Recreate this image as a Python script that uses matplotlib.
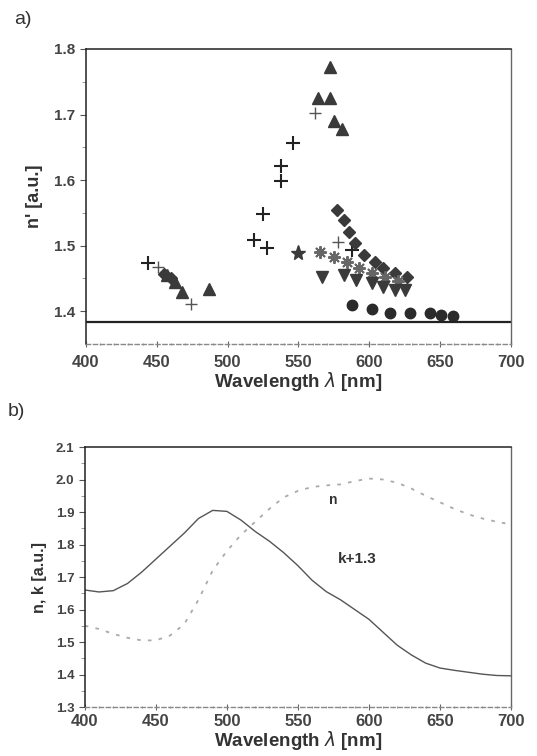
import numpy as np
import matplotlib
matplotlib.use("Agg")
import matplotlib.pyplot as plt

plt.rcParams['font.family'] = ['Liberation Sans', 'DejaVu Sans']

# panel a) data
plus_x = [444, 519, 528, 525, 546, 538, 538, 588]
plus_y = [1.473, 1.508, 1.496, 1.549, 1.656, 1.621, 1.599, 1.493]
plus_small_x = [451, 474, 562, 578]
plus_small_y = [1.467, 1.411, 1.703, 1.506]
triup_x = [457, 463, 468, 487, 564, 572, 572, 575, 581]
triup_y = [1.455, 1.444, 1.430, 1.434, 1.725, 1.725, 1.773, 1.690, 1.678]
diam_x = [455, 460, 577, 582, 586, 590, 596, 604, 610, 618, 627]
diam_y = [1.457, 1.450, 1.554, 1.539, 1.521, 1.504, 1.486, 1.475, 1.466, 1.458, 1.452]
star_x = [550]
star_y = [1.489]
aster_x = [565, 575, 584, 593, 602, 611, 620]
aster_y = [1.490, 1.482, 1.475, 1.466, 1.458, 1.452, 1.446]
tridn_x = [567, 582, 591, 602, 610, 618, 625]
tridn_y = [1.452, 1.455, 1.447, 1.443, 1.437, 1.432, 1.432]
circ_x = [588, 602, 615, 629, 643, 651, 659]
circ_y = [1.409, 1.404, 1.397, 1.397, 1.398, 1.394, 1.392]
n_air = 1.383

# panel b) data
wl = np.arange(400, 701, 10)
k_shift = [1.660, 1.654, 1.658, 1.680, 1.715, 1.755, 1.795, 1.835, 1.880, 1.905,
           1.902, 1.875, 1.840, 1.810, 1.775, 1.735, 1.690, 1.655, 1.630, 1.600,
           1.570, 1.530, 1.490, 1.460, 1.435, 1.420, 1.413, 1.407, 1.401, 1.397, 1.396]
n_real = [1.550, 1.540, 1.525, 1.513, 1.505, 1.505, 1.520, 1.555, 1.630, 1.720,
          1.780, 1.830, 1.870, 1.910, 1.945, 1.965, 1.977, 1.982, 1.985, 1.995,
          2.003, 2.000, 1.990, 1.972, 1.950, 1.930, 1.910, 1.893, 1.880, 1.870, 1.862]

tick_col = '#444444'
mk = '#3a3a3a'

fig = plt.figure(figsize=(5.37, 7.56), dpi=100)
ax1 = fig.add_axes([0.160, 0.545, 0.7914, 0.3902])
ax2 = fig.add_axes([0.158, 0.0648, 0.7934, 0.3439])

# ---- a)
ax1.plot(plus_x, plus_y, '+', color='#222222', ms=10, mew=1.5, ls='none')
ax1.plot(plus_small_x, plus_small_y, '+', color='#555555', ms=8, mew=1.0, ls='none')
ax1.plot(diam_x, diam_y, 'D', color=mk, ms=6.5, ls='none')
ax1.plot(triup_x, triup_y, '^', color=mk, ms=8.5, ls='none')
ax1.plot(star_x, star_y, '*', color=mk, ms=11, ls='none')
ax1.plot(aster_x, aster_y, marker=(8, 2, 0), color='#666666', ms=9, mew=1.4, ls='none')
ax1.plot(tridn_x, tridn_y, 'v', color=mk, ms=8.5, ls='none')
ax1.plot(circ_x, circ_y, 'o', color='#2a2a2a', ms=7.5, ls='none')
ax1.axhline(n_air, color='#222222', lw=1.6)

ax1.set_xlim(400, 700)
ax1.set_ylim(1.35, 1.8)
ax1.set_yticks([1.4, 1.5, 1.6, 1.7, 1.8])
ax1.set_yticks(np.arange(1.45, 1.8, 0.1), minor=True)
ax1.set_xticks(range(400, 701, 50))
ax1.set_xticks(range(400, 701, 10), minor=True)
ax1.set_xlabel('Wavelength $\\lambda$ [nm]', fontsize=13.5, fontweight='bold', color='#333333', labelpad=0)
ax1.set_ylabel("n' [a.u.]", fontsize=13, fontweight='bold', color='#333333', labelpad=8)
ax1.text(-0.17, 1.085, 'a)', transform=ax1.transAxes, fontsize=14, color='#333333')

# ---- b)
ax2.plot(wl, k_shift, color='#555555', lw=1.0)
ax2.plot(wl, n_real, color='#aaaaaa', lw=1.3, ls=(0, (2, 4)))
ax2.text(575, 1.937, 'n', fontsize=10, fontweight='bold', color='#333333', ha='center', va='center')
ax2.text(592, 1.755, 'k+1.3', fontsize=11, fontweight='bold', color='#333333', ha='center', va='center')

ax2.set_xlim(400, 700)
ax2.set_ylim(1.3, 2.1)
ax2.set_yticks(np.arange(1.3, 2.11, 0.1))
ax2.set_xticks(range(400, 701, 50))
ax2.set_xticks(range(400, 701, 10), minor=True)
ax2.set_yticks(np.arange(1.35, 2.1, 0.1), minor=True)
ax2.set_xlabel('Wavelength $\\lambda$ [nm]', fontsize=13.5, fontweight='bold', color='#333333', labelpad=0)
ax2.set_ylabel('n, k [a.u.]', fontsize=11.5, fontweight='bold', color='#333333', labelpad=6)
ax2.text(-0.18, 1.12, 'b)', transform=ax2.transAxes, fontsize=14, color='#333333')

for ax, fs_y in ((ax1, 11), (ax2, 9.5)):
    for s in ('left', 'top'):
        ax.spines[s].set_color('#222222')
        ax.spines[s].set_linewidth(1.1)
    ax.spines['right'].set_color('#666666')
    ax.spines['right'].set_linewidth(1.0)
    ax.spines['bottom'].set_color('#888888')
    ax.spines['bottom'].set_linestyle((0, (3, 2)))
    ax.spines['bottom'].set_linewidth(1.0)
    ax.tick_params(axis='x', which='major', labelsize=12, length=4, color='#666666',
                   labelcolor=tick_col, direction='inout', pad=6)
    ax.tick_params(axis='x', which='minor', length=2, color='#888888', direction='inout')
    ax.tick_params(axis='y', which='major', labelsize=fs_y, length=4, color='#555555',
                   labelcolor=tick_col, direction='out')
    ax.tick_params(axis='y', which='minor', length=3, color='#888888', direction='out')
    for lb in ax.get_xticklabels() + ax.get_yticklabels():
        lb.set_fontweight('bold')

ax2.tick_params(axis='x', which='major', pad=3)

fig.savefig('out.png', dpi=100)
